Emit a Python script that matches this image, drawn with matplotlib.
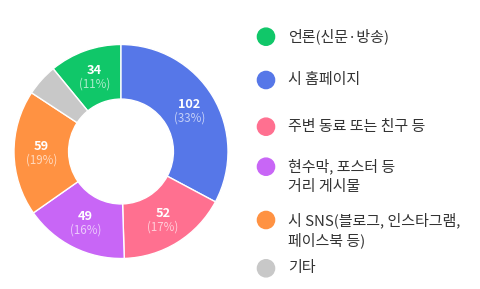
import matplotlib
matplotlib.use("Agg")
import matplotlib.pyplot as plt
from matplotlib.patches import Circle
import numpy as np

plt.rcParams['font.family'] = ['Noto Sans CJK KR', 'DejaVu Sans']

labels = ["언론(신문·방송)", "시 홈페이지", "주변 동료 또는 친구 등",
          "현수막, 포스터 등\n거리 게시물", "시 SNS(블로그, 인스타그램,\n페이스북 등)", "기타"]
values = [34, 102, 52, 49, 59, 15]
pcts = ["11%", "33%", "17%", "16%", "19%", "5%"]
colors = ["#10C769", "#5677E8", "#FF7090", "#C866F6", "#FF9242", "#C8C8C8"]

fig = plt.figure(figsize=(4.81, 2.89), dpi=100)
W, H = 481, 289
cx, cy, R = 121, 151.5, 107
ax = fig.add_axes([(cx - R) / W, (H - cy - R) / H, 2 * R / W, 2 * R / H])
ax.set_aspect("equal")

total = sum(values)
start = 90 + 360 * values[0] / total
wedges, _ = ax.pie(values, colors=colors, startangle=start, counterclock=False,
                   radius=1, wedgeprops=dict(width=0.51, edgecolor="white", linewidth=1))
ax.set_xlim(-1, 1)
ax.set_ylim(-1, 1)

for w, v, p in zip(wedges, values, pcts):
    if v / total < 0.08:
        continue
    ang = np.deg2rad((w.theta1 + w.theta2) / 2)
    x, y = 0.745 * np.cos(ang), 0.745 * np.sin(ang)
    ax.text(x, y + 0.055, str(v), ha="center", va="center", color="white",
            fontsize=9.2, fontweight="bold")
    ax.text(x, y - 0.07, "(" + p + ")", ha="center", va="center",
            color=(1, 1, 1, 0.65), fontsize=8.3)

# legend
lg = fig.add_axes([0, 0, 1, 1])
lg.set_xlim(0, W)
lg.set_ylim(H, 0)
lg.axis("off")
ys = [36.7, 80, 126.7, 166.7, 220, 268.3]
for y, c, t in zip(ys, colors, labels):
    lg.add_patch(Circle((266, y), 8.6, color=c))
    for i, ln in enumerate(t.split("\n")):
        lg.text(288, y + i * 20, ln, ha="left", va="center", fontsize=10.8, color="#333333")

fig.savefig("out.png", dpi=100)
